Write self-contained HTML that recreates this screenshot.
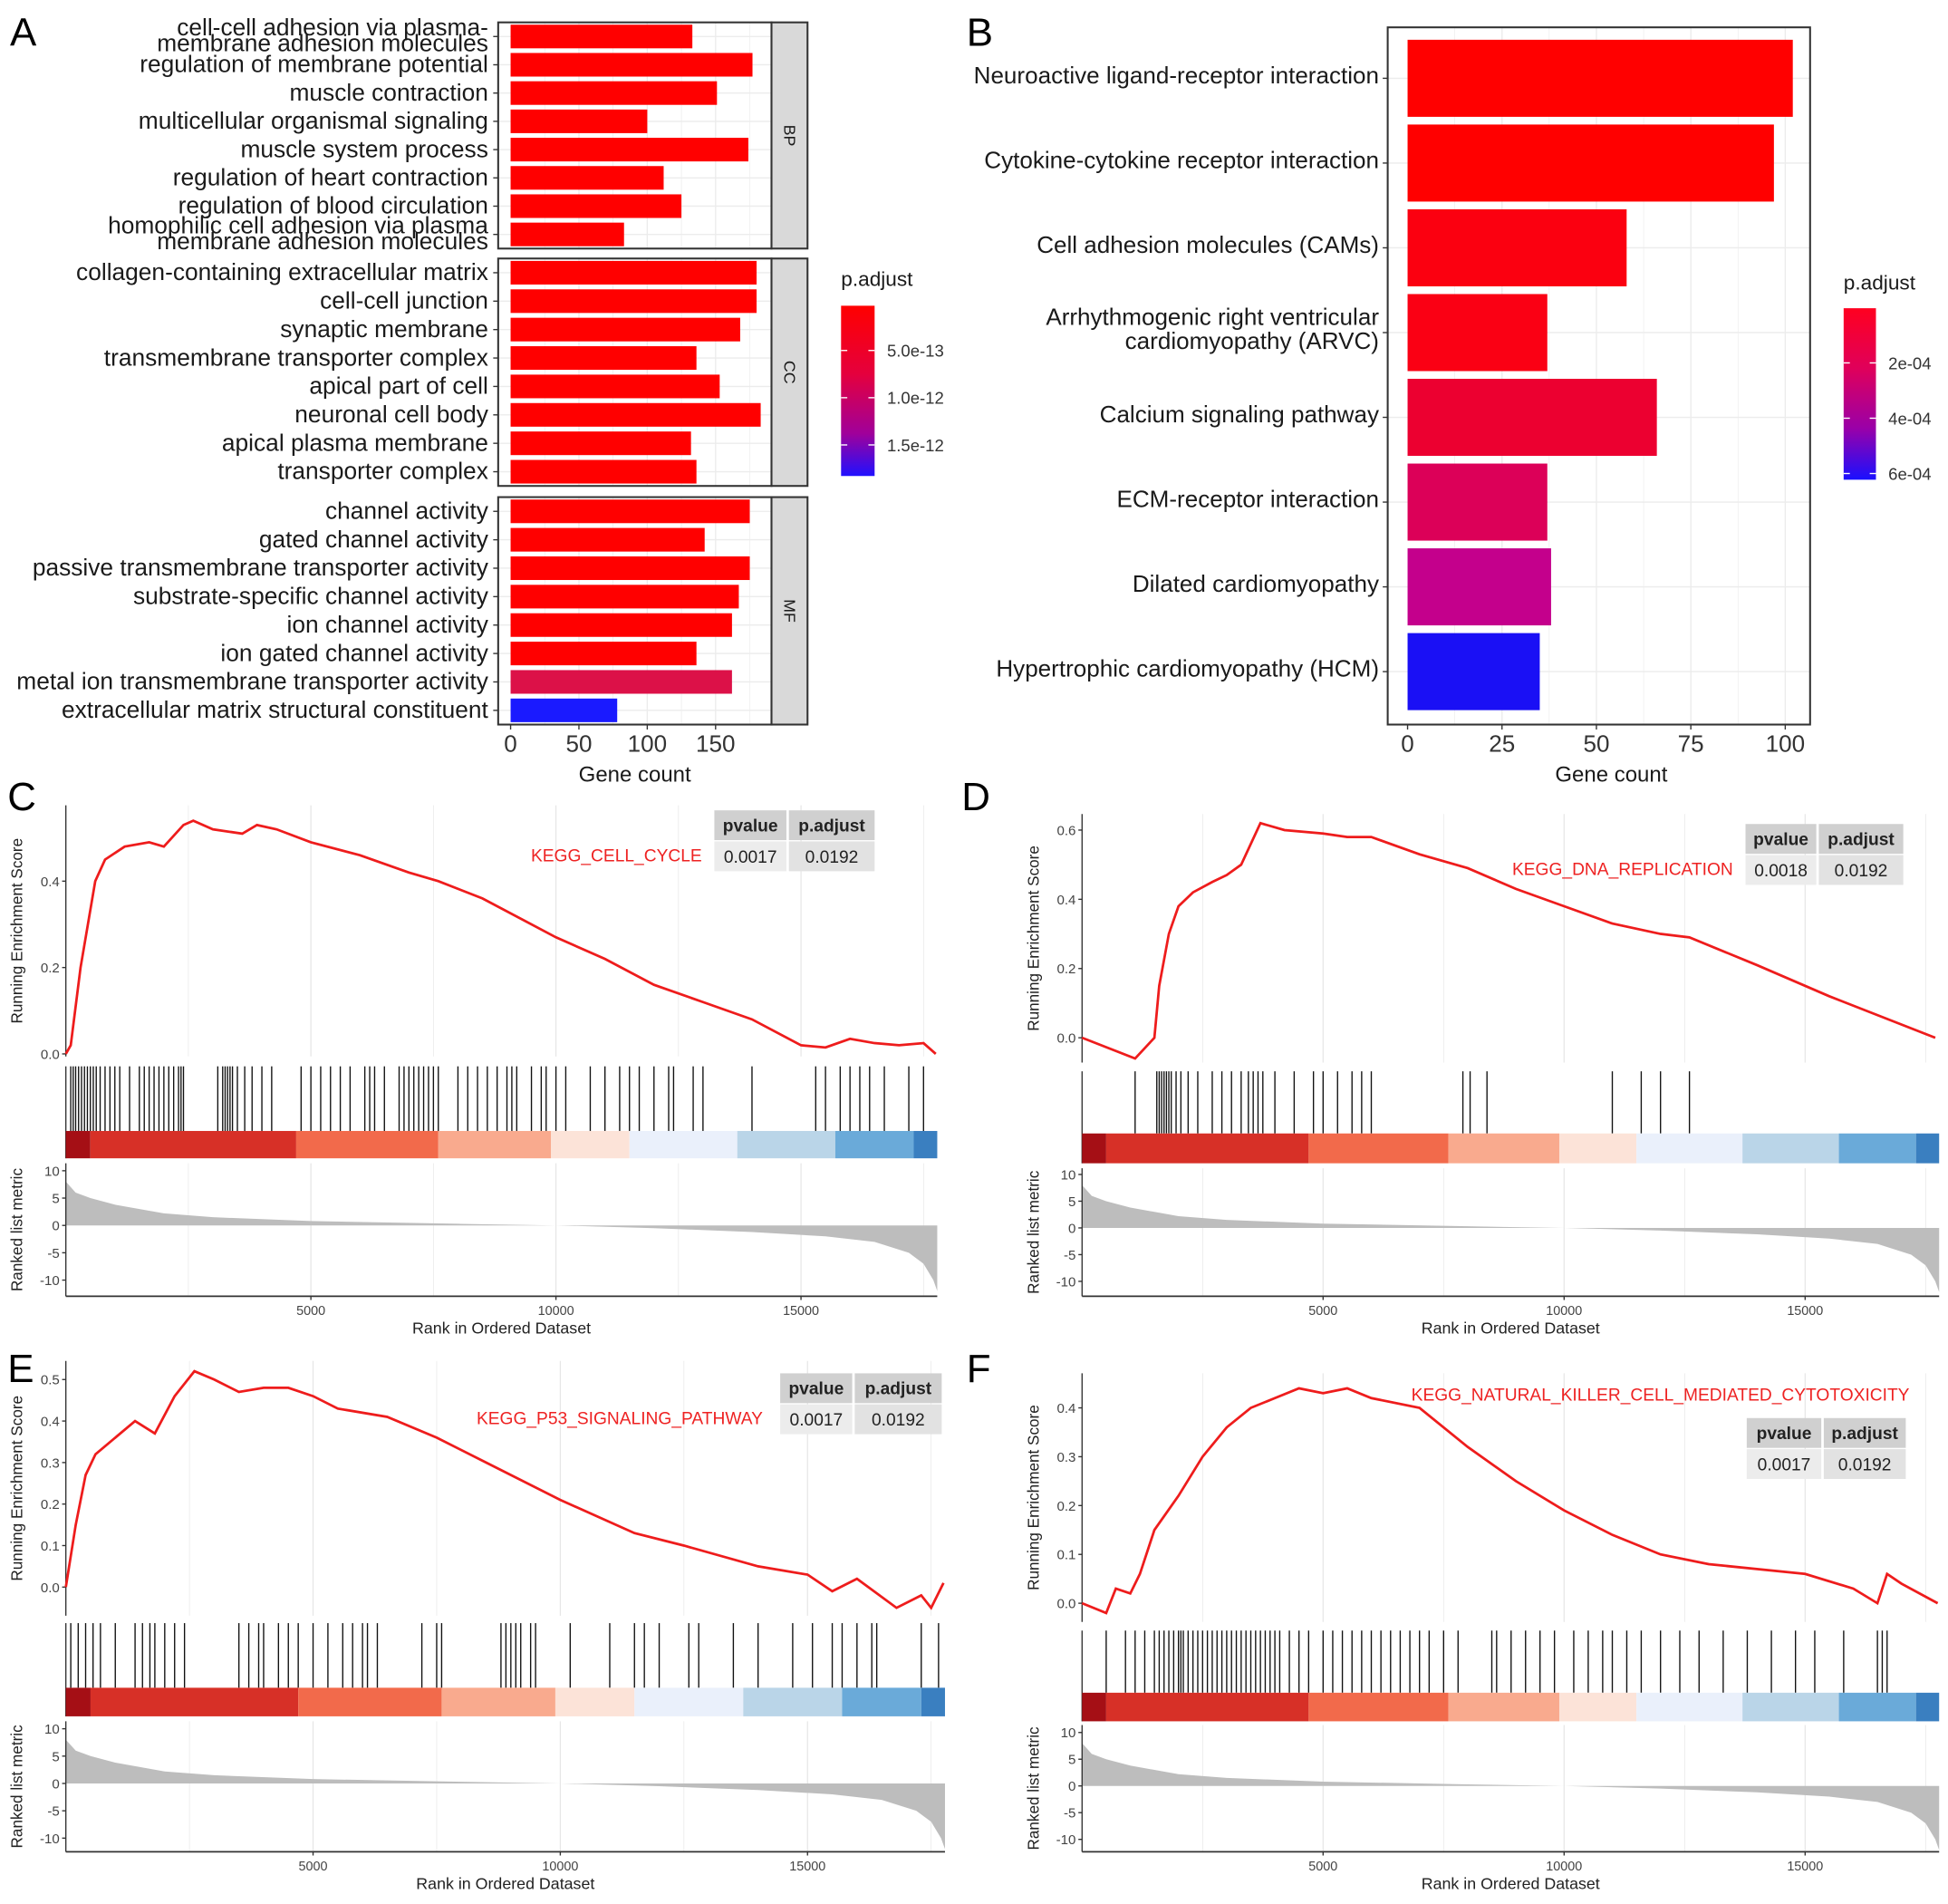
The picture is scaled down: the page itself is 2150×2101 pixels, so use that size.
<!DOCTYPE html>
<html><head><meta charset="utf-8"><style>
html,body{margin:0;padding:0;background:#fff;}
svg{display:block;font-family:"Liberation Sans",sans-serif;}
</style></head><body>
<svg id="fig" width="2150" height="2101" viewBox="0 0 1568 1532" preserveAspectRatio="none" xmlns="http://www.w3.org/2000/svg"></svg>
<script>
// ---------- Panel A data ----------
const goBP = ["cell-cell adhesion via plasma-|membrane adhesion molecules","regulation of membrane potential","muscle contraction","multicellular organismal signaling","muscle system process","regulation of heart contraction","regulation of blood circulation","homophilic cell adhesion via plasma|membrane adhesion molecules"];
const goBPCount = [133,177,151,100,174,112,125,83];
const goCC = ["collagen-containing extracellular matrix","cell-cell junction","synaptic membrane","transmembrane transporter complex","apical part of cell","neuronal cell body","apical plasma membrane","transporter complex"];
const goCCCount = [180,180,168,136,153,183,132,136];
const goMF = ["channel activity","gated channel activity","passive transmembrane transporter activity","substrate-specific channel activity","ion channel activity","ion gated channel activity","metal ion transmembrane transporter activity","extracellular matrix structural constituent"];
const goMFCount = [175,142,175,167,162,136,162,78];
const goMFColor = ["#ff0000","#ff0000","#ff0000","#ff0000","#ff0000","#ff0000","#dc1148","#1a1aff"];
const goTicks = [0,50,100,150];
const goLegendTicks = ["5.0e-13","1.0e-12","1.5e-12"];
// ---------- Panel B data ----------
const keggTerms = ["Neuroactive ligand-receptor interaction","Cytokine-cytokine receptor interaction","Cell adhesion molecules (CAMs)","Arrhythmogenic right ventricular|cardiomyopathy (ARVC)","Calcium signaling pathway","ECM-receptor interaction","Dilated cardiomyopathy","Hypertrophic cardiomyopathy (HCM)"];
const keggCount = [102,97,58,37,66,37,38,35];
const keggColor = ["#ff0000","#ff0000","#fb0010","#fa0014","#ec0030","#dc0058","#c4008c","#1a10f5"];
const keggTicks = [0,25,50,75,100];
const keggLegendTicks = ["2e-04","4e-04","6e-04"];
// ---------- GSEA data ----------
const esC = [[0,0],[100,0.02],[300,0.2],[600,0.4],[800,0.45],[1200,0.48],[1700,0.49],[2000,0.48],[2400,0.53],[2600,0.54],[3000,0.52],[3600,0.51],[3900,0.53],[4300,0.52],[5000,0.49],[6000,0.46],[7000,0.42],[7600,0.40],[8500,0.36],[10000,0.27],[11000,0.22],[12000,0.16],[13000,0.12],[14000,0.08],[15000,0.02],[15500,0.015],[16000,0.035],[16500,0.025],[17000,0.02],[17500,0.025],[17750,0.0]];
const esD = [[0,0],[1100,-0.06],[1500,0.0],[1600,0.15],[1800,0.3],[2000,0.38],[2300,0.42],[2700,0.45],[3000,0.47],[3300,0.5],[3700,0.62],[4200,0.6],[5000,0.59],[5500,0.58],[6000,0.58],[7000,0.53],[8000,0.49],[9000,0.43],[10000,0.38],[11000,0.33],[12000,0.30],[12600,0.29],[14000,0.21],[15500,0.12],[17700,0.0]];
const esE = [[0,0],[200,0.15],[400,0.27],[600,0.32],[1000,0.36],[1400,0.40],[1800,0.37],[2200,0.46],[2600,0.52],[3000,0.50],[3500,0.47],[4000,0.48],[4500,0.48],[5000,0.46],[5500,0.43],[6500,0.41],[7500,0.36],[8500,0.30],[10000,0.21],[11500,0.13],[12500,0.10],[14000,0.05],[15000,0.03],[15500,-0.01],[16000,0.02],[16800,-0.05],[17300,-0.02],[17500,-0.05],[17750,0.01]];
const esF = [[0,0],[500,-0.02],[700,0.03],[1000,0.02],[1200,0.06],[1500,0.15],[2000,0.22],[2500,0.30],[3000,0.36],[3500,0.40],[4000,0.42],[4500,0.44],[5000,0.43],[5500,0.44],[6000,0.42],[7000,0.40],[8000,0.32],[9000,0.25],[10000,0.19],[11000,0.14],[12000,0.10],[13000,0.08],[14000,0.07],[15000,0.06],[16000,0.03],[16500,0.0],[16700,0.06],[17000,0.04],[17750,0.0]];
const hitsC = [100,150,200,260,320,380,440,500,560,620,700,800,900,1000,1100,1300,1500,1600,1700,1800,1900,2000,2100,2200,2300,2350,2400,3100,3200,3250,3300,3350,3400,3500,3650,3800,4000,4200,4800,5000,5200,5400,5600,5800,6100,6200,6300,6500,6800,6900,7000,7100,7200,7300,7400,7500,7600,8000,8200,8400,8600,8800,9000,9100,9200,9500,9700,9800,10000,10200,10700,11000,11300,11500,11700,12000,12300,12400,12800,13000,14000,15300,15500,15800,16000,16200,16400,16700,17200,17500];
const hitsD = [1100,1550,1600,1650,1700,1750,1800,1850,1950,2050,2200,2400,2700,2900,3100,3300,3450,3550,3650,3750,4000,4400,4800,5000,5300,5600,5800,6000,7900,8050,8400,11000,11600,12000,12600];
const hitsE = [100,250,400,550,700,1000,1400,1550,1700,1800,2000,2200,2400,3500,3700,3900,4000,4300,4500,4700,5000,5300,5600,5800,6000,6100,6300,7200,7500,7600,8800,8900,9000,9100,9200,9400,9500,10200,11000,11500,11700,12000,12600,12800,13500,14000,14700,15100,15500,15700,16000,16300,16400,17300,17650];
const hitsF = [500,900,1100,1300,1500,1600,1700,1800,1900,2000,2050,2100,2200,2300,2400,2500,2600,2700,2800,2900,3000,3100,3200,3300,3400,3500,3600,3700,3800,3900,4000,4100,4300,4500,4700,5000,5200,5400,5600,5800,6000,6200,6400,6600,6800,7000,7200,7500,7800,8500,8600,8900,9200,9500,9800,10200,10500,10800,11000,11300,11600,12000,12400,12800,13300,13800,14300,14800,15200,15800,16500,16600,16700];
const bandBreaks = [0,500,4700,7600,9900,11500,13700,15700,17300,17800];
const bandColors = ["#a50f15","#d73027","#f26a4b","#f9aa8e","#fce3d8","#eaf0fb","#bad5e8","#6aaad9","#3a7fc0"];
const metricCurve = [[0,8],[200,6],[500,5],[1000,3.8],[2000,2.2],[3000,1.5],[5000,0.8],[8000,0.3],[10000,0],[12000,-0.5],[14000,-1.2],[15500,-2],[16500,-3],[17200,-5],[17500,-7],[17700,-10],[17780,-12]];
const rankTicks = [5000,10000,15000];
const metricTicks = [10,5,0,-5,-10];

const NS="http://www.w3.org/2000/svg";
const svg=document.getElementById('fig');
function mk(tag,attrs,parent){const e=document.createElementNS(NS,tag);for(const k in attrs)e.setAttribute(k,attrs[k]);(parent||svg).appendChild(e);return e;}
function txt(s,x,y,size,anchor,parent,fill,weight){const t=mk('text',{x:x,y:y,'font-size':size,'text-anchor':anchor||'start',fill:fill||'#1a1a1a'},parent);if(weight)t.setAttribute('font-weight',weight);t.textContent=s;return t;}

// panel letters
[["A",8,37],["B",778,37],["C",6,652],["D",774,652],["E",6,1112],["F",778,1112]].forEach(p=>{
  const t=txt(p[0],p[1],p[2],32,'start',svg,'#000');
  
  
});

// ---------- Panel A ----------
(function(){
  const g=mk('g',{});
  
  
  const x0=411, k=1.1, L=401, R=621, FS=19.2;
  const xs=v=>x0+v*k;
  const facets=[["BP",goBP,goBPCount,null,18,200],["CC",goCC,goCCCount,null,208,391],["MF",goMF,goMFCount,goMFColor,400,583]];
  facets.forEach(f=>{
    const top=f[4],bot=f[5],n=f[1].length,pitch=(bot-top)/n;
    mk('rect',{x:L,y:top,width:R-L,height:bot-top,fill:'#fff'},g);
    [25,50,75,100,125,150,175].forEach(v=>mk('line',{x1:xs(v),x2:xs(v),y1:top,y2:bot,stroke:'#ececec','stroke-width':v%50?0.5:1},g));
    f[1].forEach((lab,i)=>{
      const cy=top+pitch*(i+0.5);
      mk('line',{x1:L,x2:R,y1:cy,y2:cy,stroke:'#ececec'},g);
      const b=mk('rect',{x:x0,y:cy-9.5,width:f[2][i]*k,height:19,fill:f[3]?f[3][i]:'#ff0000'},g);
      
      
      const parts=lab.split('|');
      if(parts.length==1) txt(parts[0],393,cy+6,FS,'end',g);
      else {txt(parts[0],393,cy-1,FS,'end',g);txt(parts[1],393,cy+12,FS,'end',g);}
      mk('line',{x1:397,x2:401,y1:cy,y2:cy,stroke:'#333'},g);
    });
    mk('rect',{x:L,y:top,width:R-L,height:bot-top,fill:'none',stroke:'#333','stroke-width':1.5},g);
    const s=mk('rect',{x:R,y:top,width:29,height:bot-top,fill:'#d9d9d9',stroke:'#333','stroke-width':1.5},g);
    
    
    const st=txt(f[0],R+14.5,(top+bot)/2,13,'middle',g);
    st.setAttribute('transform','rotate(90 '+(R+14.5)+' '+(top+bot)/2+')');
    st.setAttribute('dominant-baseline','central');
  });
  goTicks.forEach(v=>{mk('line',{x1:xs(v),x2:xs(v),y1:583,y2:587,stroke:'#333'},g);txt(String(v),xs(v),605,19,'middle',g,'#333');});
  const xt=txt('Gene count',511,629,17.5,'middle',g);
  
  
  const d=mk('defs',{});
  const lg=mk('linearGradient',{id:'gA',x1:0,y1:0,x2:0,y2:1},d);
  mk('stop',{offset:'0','stop-color':'#ff0000'},lg);mk('stop',{offset:'0.4','stop-color':'#e5003d'},lg);mk('stop',{offset:'0.75','stop-color':'#a0009a'},lg);mk('stop',{offset:'1','stop-color':'#2010ff'},lg);
  txt('p.adjust',677,230,16.5,'start',g);
  const cb=mk('rect',{x:677,y:246,width:27,height:137,fill:'url(#gA)'},g);
  
  
  goLegendTicks.forEach((s,i)=>{const y=282+i*38;mk('line',{x1:677,x2:682,y1:y,y2:y,stroke:'#fff'},g);mk('line',{x1:699,x2:704,y1:y,y2:y,stroke:'#fff'},g);txt(s,714,y+5,13.5,'start',g,'#333');});
})();

// ---------- Panel B ----------
(function(){
  const g=mk('g',{});
  
  
  const x0=1133,k=3.04,L=1117,R=1457,T=22,B=583,FS=19;
  const xs=v=>x0+v*k;
  for(let v=12.5;v<=100;v+=12.5) mk('line',{x1:xs(v),x2:xs(v),y1:T,y2:B,stroke:'#ececec','stroke-width':v%25?0.5:1},g);
  const pitch=68.2, first=63;
  keggTerms.forEach((lab,i)=>{
    const cy=first+i*pitch;
    mk('line',{x1:L,x2:R,y1:cy,y2:cy,stroke:'#ececec'},g);
    const b=mk('rect',{x:x0,y:cy-31,width:keggCount[i]*k,height:62,fill:keggColor[i]},g);
    
    
    const parts=lab.split('|');
    if(parts.length==1) txt(parts[0],1110,cy+4,FS,'end',g);
    else {txt(parts[0],1110,cy-6,FS,'end',g);txt(parts[1],1110,cy+13,FS,'end',g);}
    mk('line',{x1:1113,x2:1117,y1:cy,y2:cy,stroke:'#333'},g);
  });
  mk('rect',{x:L,y:T,width:R-L,height:B-T,fill:'none',stroke:'#333','stroke-width':1.5},g);
  keggTicks.forEach(v=>{mk('line',{x1:xs(v),x2:xs(v),y1:B,y2:B+4,stroke:'#333'},g);txt(String(v),xs(v),605,19,'middle',g,'#333');});
  const xt=txt('Gene count',1297,629,17.5,'middle',g);
  
  
  const d=mk('defs',{});
  const lg=mk('linearGradient',{id:'gB',x1:0,y1:0,x2:0,y2:1},d);
  mk('stop',{offset:'0','stop-color':'#ff0020'},lg);mk('stop',{offset:'0.35','stop-color':'#e0005a'},lg);mk('stop',{offset:'0.7','stop-color':'#9a00a8'},lg);mk('stop',{offset:'1','stop-color':'#1a10ff'},lg);
  txt('p.adjust',1484,233,16.5,'start',g);
  const cb=mk('rect',{x:1484,y:248,width:26,height:138,fill:'url(#gB)'},g);
  
  
  keggLegendTicks.forEach((s,i)=>{const y=292+i*44.5;mk('line',{x1:1484,x2:1489,y1:y,y2:y,stroke:'#fff'},g);mk('line',{x1:1505,x2:1510,y1:y,y2:y,stroke:'#fff'},g);txt(s,1520,y+5,13.5,'start',g,'#333');});
})();

// ---------- GSEA ----------
function gsea(c){
  const g=mk('g',{});
  
  
  const xs=r=>c.x0+r*c.k;
  const ys=v=>c.es0-v*c.esk;
  const ms=v=>c.m0-v*c.mk;
  const N=17780, xR=xs(N);
  for(let r=2500;r<N;r+=2500){mk('line',{x1:xs(r),x2:xs(r),y1:c.esTop,y2:c.esBot,stroke:'#e6e6e6','stroke-width':r%5000?0.5:0.9},g);mk('line',{x1:xs(r),x2:xs(r),y1:c.mTop,y2:c.mBot,stroke:'#e6e6e6','stroke-width':r%5000?0.5:0.9},g);}
  mk('line',{x1:c.x0,x2:c.x0,y1:c.esTop,y2:c.esBot,stroke:'#333'},g);
  c.esTicks.forEach(v=>{const y=ys(v);mk('line',{x1:c.x0-3,x2:c.x0,y1:y,y2:y,stroke:'#333'},g);txt(v.toFixed(1),c.x0-5,y+4,11,'end',g,'#444');});
  const yt=txt('Running Enrichment Score',c.x0-35,(c.esTop+c.esBot)/2,12.5,'middle',g,'#222');
  yt.setAttribute('transform','rotate(-90 '+(c.x0-35)+' '+(c.esTop+c.esBot)/2+')');
  const line=mk('polyline',{points:c.es.map(p=>xs(p[0])+','+ys(p[1])).join(' '),fill:'none',stroke:'#ee1c1c','stroke-width':2},g);
  
  
  c.hits.forEach(r=>{const h=mk('line',{x1:xs(r),x2:xs(r),y1:c.hTop,y2:c.hBot,stroke:'#111','stroke-width':1},g);
    
    });
  mk('line',{x1:c.x0,x2:c.x0,y1:c.hTop,y2:c.bBot,stroke:'#333'},g);
  for(let i=0;i<bandColors.length;i++){mk('rect',{x:xs(bandBreaks[i]),y:c.hBot,width:xs(Math.min(bandBreaks[i+1],N))-xs(bandBreaks[i]),height:c.bBot-c.hBot,fill:bandColors[i]},g);}
  const pts=[[c.x0,ms(0)]].concat(metricCurve.map(p=>[xs(Math.min(p[0],N)),ms(p[1])]),[[xR,ms(0)]]);
  const area=mk('polygon',{points:pts.map(p=>p.join(',')).join(' '),fill:'#bdbdbd'},g);
  
  
  mk('line',{x1:c.x0,x2:c.x0,y1:c.mTop,y2:c.mBot,stroke:'#333'},g);
  metricTicks.forEach(v=>{const y=ms(v);mk('line',{x1:c.x0-3,x2:c.x0,y1:y,y2:y,stroke:'#333'},g);txt(String(v),c.x0-5,y+4,11,'end',g,'#444');});
  const mt=txt('Ranked list metric',c.x0-35,(c.mTop+c.mBot)/2,12.5,'middle',g,'#222');
  mt.setAttribute('transform','rotate(-90 '+(c.x0-35)+' '+(c.mTop+c.mBot)/2+')');
  mk('line',{x1:c.x0,x2:xR,y1:c.mBot,y2:c.mBot,stroke:'#333','stroke-width':1.3},g);
  rankTicks.forEach(r=>{mk('line',{x1:xs(r),x2:xs(r),y1:c.mBot,y2:c.mBot+3,stroke:'#333'},g);txt(String(r),xs(r),c.mBot+15,10.5,'middle',g,'#444');});
  txt('Rank in Ordered Dataset',(c.x0+xR)/2,c.mBot+30,13,'middle',g,'#222');
  const t=c.tab;
  const tg=mk('g',{},g);
  
  
  mk('rect',{x:t.x,y:t.y,width:t.w1,height:24,fill:'#d0d0d0'},tg);
  mk('rect',{x:t.x+t.w1+2,y:t.y,width:t.w2,height:24,fill:'#d0d0d0'},tg);
  mk('rect',{x:t.x,y:t.y+25,width:t.w1,height:24,fill:'#ececec'},tg);
  mk('rect',{x:t.x+t.w1+2,y:t.y+25,width:t.w2,height:24,fill:'#e2e2e2'},tg);
  txt('pvalue',t.x+t.w1/2,t.y+17,14,'middle',tg,'#222','bold');
  txt('p.adjust',t.x+t.w1+2+t.w2/2,t.y+17,14,'middle',tg,'#222','bold');
  txt(c.pv,t.x+t.w1/2,t.y+42,14,'middle',tg,'#222');
  txt(c.pa,t.x+t.w1+2+t.w2/2,t.y+42,14,'middle',tg,'#222');
  const lt=txt(c.title,c.tx,c.ty,14,'end',g,'#ee2222');
  
  
}
gsea({name:'gsea-cell-cycle',x0:53,k:0.03945,es0:848,esk:347.5,esTop:648,esBot:850,esTicks:[0,0.2,0.4],es:esC,hits:hitsC,hTop:858,hBot:910,bBot:932,m0:986,mk:4.4,mTop:936,mBot:1043,tab:{x:575,y:652,w1:58,w2:69},pv:'0.0017',pa:'0.0192',title:'KEGG_CELL_CYCLE',tx:565,ty:693});
gsea({name:'gsea-dna-replication',x0:871,k:0.0388,es0:835,esk:278.5,esTop:655,esBot:855,esTicks:[0,0.2,0.4,0.6],es:esD,hits:hitsD,hTop:862,hBot:912,bBot:936,m0:988,mk:4.3,mTop:940,mBot:1043,tab:{x:1405,y:663,w1:57,w2:68},pv:'0.0018',pa:'0.0192',title:'KEGG_DNA_REPLICATION',tx:1395,ty:704});
gsea({name:'gsea-p53-signaling',x0:53,k:0.0398,es0:1277,esk:334,esTop:1095,esBot:1300,esTicks:[0,0.1,0.2,0.3,0.4,0.5],es:esE,hits:hitsE,hTop:1306,hBot:1358,bBot:1381,m0:1435,mk:4.4,mTop:1385,mBot:1490,tab:{x:628,y:1105,w1:58,w2:70},pv:'0.0017',pa:'0.0192',title:'KEGG_P53_SIGNALING_PATHWAY',tx:614,ty:1146});
gsea({name:'gsea-nk-cytotoxicity',x0:871,k:0.0388,es0:1290,esk:393,esTop:1105,esBot:1305,esTicks:[0,0.1,0.2,0.3,0.4],es:esF,hits:hitsF,hTop:1312,hBot:1362,bBot:1385,m0:1437,mk:4.3,mTop:1388,mBot:1490,tab:{x:1406,y:1141,w1:60,w2:66},pv:'0.0017',pa:'0.0192',title:'KEGG_NATURAL_KILLER_CELL_MEDIATED_CYTOTOXICITY',tx:1537,ty:1127});
</script>
</body></html>
